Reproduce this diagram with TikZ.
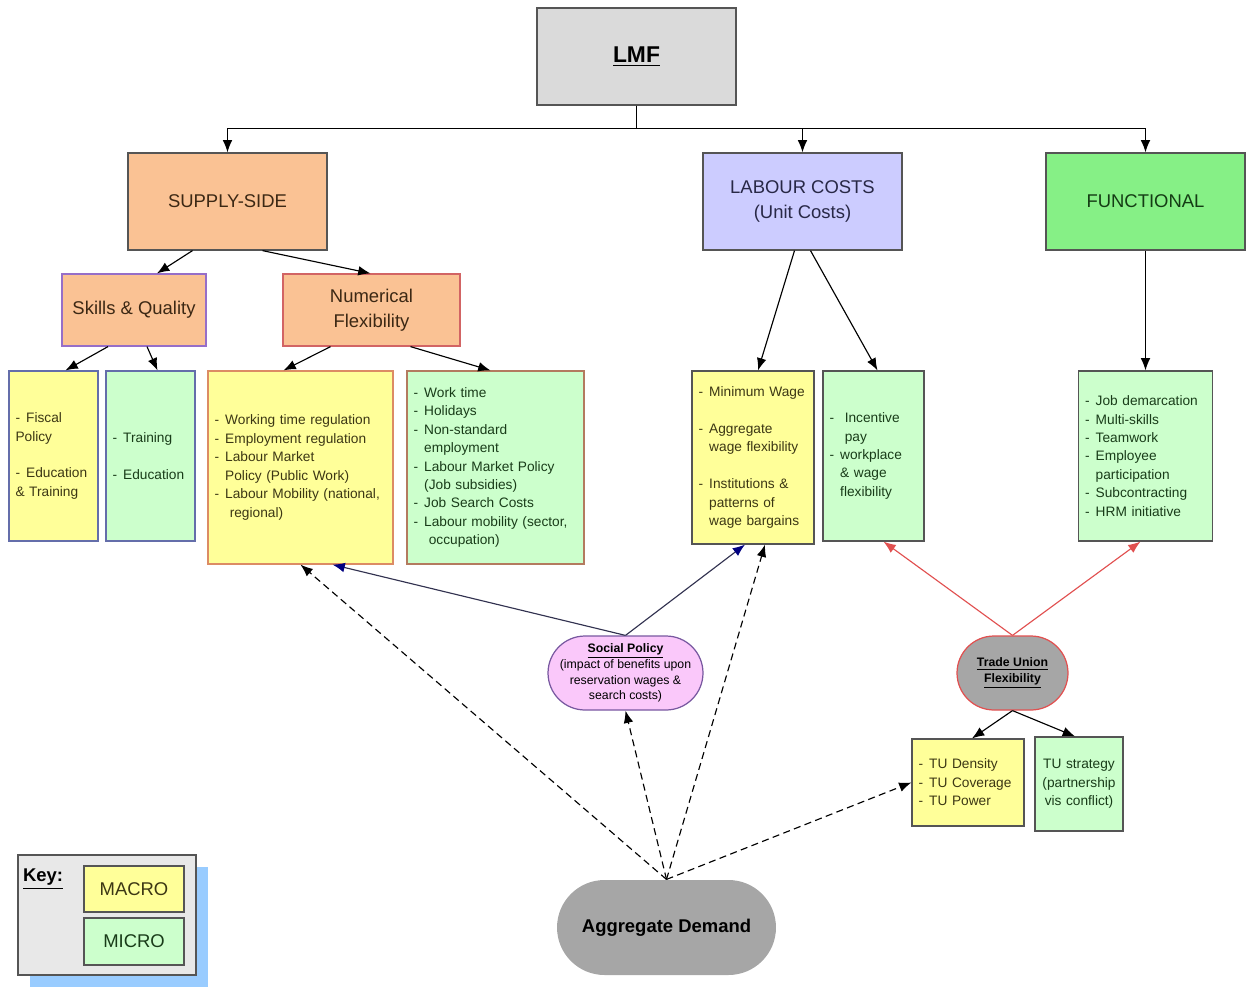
\documentclass[tikz,border=0pt]{standalone}
\usepackage{fontspec}
\setmainfont{Liberation Sans}
\usepackage{tikz}
\usetikzlibrary{calc, arrows.meta}

\definecolor{lmfgray}{RGB}{218,218,218}
\definecolor{peach}{RGB}{250,194,148}
\definecolor{lavender}{RGB}{204,204,255}
\definecolor{brightgrn}{RGB}{134,240,134}
\definecolor{macroyel}{RGB}{255,255,153}
\definecolor{microgrn}{RGB}{204,255,204}
\definecolor{pinkfill}{RGB}{250,200,250}
\definecolor{tugray}{RGB}{166,166,166}
\definecolor{keygray}{RGB}{232,232,232}
\definecolor{keyshadow}{RGB}{153,204,255}
\definecolor{edge}{RGB}{85,85,85}
\definecolor{purpedge}{RGB}{150,110,200}
\definecolor{rededge}{RGB}{210,100,100}
\definecolor{blueedge}{RGB}{100,110,170}
\definecolor{orgedge}{RGB}{220,140,100}
\definecolor{spline}{RGB}{50,50,80}
\definecolor{spnavy}{RGB}{0,0,128}
\definecolor{tured}{RGB}{225,80,80}
\definecolor{macrotxt}{RGB}{60,55,20}
\definecolor{microtxt}{RGB}{25,60,25}

\begin{document}
\begin{tikzpicture}[x=0.02cm, y=-0.02cm,
		box/.style={draw=edge, line width=0.7pt, inner sep=1pt, align=center},
		head/.style={box, font=\fontsize{10.5}{14}\selectfont, minimum width=3.98cm, minimum height=1.94cm},
		sub/.style={box, fill=peach, text={rgb,255:red,60;green,40;blue,20}, font=\fontsize{10.5}{14}\selectfont, minimum height=1.44cm},
		list/.style={draw=edge, line width=0.7pt, inner xsep=0.13cm, inner ysep=0pt, align=left, font=\fontsize{7.8}{10.5}\selectfont},
		macro/.style={list, fill=macroyel, text=macrotxt},
		micro/.style={list, fill=microgrn, text=microtxt},
		pill/.style={line width=0.7pt, inner sep=1pt, align=center, minimum height=1.48cm, rounded corners=0.74cm},
		link/.style={-{Latex[length=7pt, width=5.5pt]}, line width=0.65pt},
		spl/.style={-{Latex[length=7pt, width=5.5pt, color=spnavy]}, line width=0.65pt, draw=spline},
		tul/.style={-{Latex[length=7pt, width=5.5pt]}, line width=0.65pt, draw=tured},
		demand/.style={link, dash pattern=on 4pt off 2.5pt},
	]
		\def\bul{-\hspace{3.5pt}}
		\def\ind{\hspace{6.1pt}}

		\useasboundingbox (0,0) rectangle (1247,987);

		% top level
		\node[head, fill=lmfgray, font=\fontsize{13}{15}\selectfont\bfseries] (lmf) at (636.5,56.5) {\underline{LMF}};
		\node[head, fill=peach, text={rgb,255:red,60;green,40;blue,20}] (ss) at (227.5,201.5) {SUPPLY-SIDE};
		\node[head, fill=lavender, text={rgb,255:red,40;green,40;blue,70}] (lc) at (802.5,201.5) {LABOUR COSTS\\(Unit Costs)};
		\node[head, fill=brightgrn, text={rgb,255:red,20;green,60;blue,20}] (fn) at (1145.5,201.5) {FUNCTIONAL};

		\node[sub, draw=purpedge, minimum width=2.88cm] (sq) at (134,310) {Skills \& Quality};
		\node[sub, draw=rededge, minimum width=3.54cm] (nf) at (371.5,310) {Numerical\\Flexibility};

		% lists
		\node[macro, draw=blueedge, text width=1.52cm, minimum height=3.4cm] (fp) at (53.5,456)
			{\bul Fiscal\\Policy\\[10.5pt]\bul Education\\\& Training};
		\node[micro, draw=blueedge, text width=1.52cm, minimum height=3.4cm] (tr) at (150.5,456)
			{\bul Training\\[10.5pt]\bul Education};
		\node[macro, draw=orgedge, text width=3.44cm, minimum height=3.86cm] (wt) at (300.5,467.5)
			{\bul Working time regulation\\\bul Employment regulation\\\bul Labour Market\\\ind Policy (Public Work)\\\bul Labour Mobility (national,\\\ind\ regional)};
		\node[micro, draw=orgedge!70!edge, text width=3.28cm, minimum height=3.86cm] (wk) at (495.5,467.5)
			{\bul Work time\\\bul Holidays\\\bul Non-standard\\\ind employment\\\bul Labour Market Policy\\\ind (Job subsidies)\\\bul Job Search Costs\\\bul Labour mobility (sector,\\\ind\ occupation)};
		\node[macro, text width=2.18cm, minimum height=3.46cm] (mw) at (753,457.5)
			{\bul Minimum Wage\\[10.5pt]\bul Aggregate\\\ind wage flexibility\\[10.5pt]\bul Institutions \&\\\ind patterns of\\\ind wage bargains};
		\node[micro, text width=1.76cm, minimum height=3.4cm] (ip) at (873.5,456)
			{\bul\ Incentive\\\ind\ pay\\\bul workplace\\\ind \& wage\\\ind flexibility};
		\node[micro, text width=2.42cm, minimum height=3.4cm] (jd) at (1145.5,456)
			{\bul Job demarcation\\\bul Multi-skills\\\bul Teamwork\\\bul Employee\\\ind participation\\\bul Subcontracting\\\bul HRM initiative};

		% policy and unions
		\node[pill, draw=purpedge!80!black, fill=pinkfill, minimum width=3.1cm, font=\fontsize{7}{9}\selectfont] (sp) at (625.5,673)
			{\textbf{\underline{Social Policy}}\\(impact of benefits upon\\reservation wages \&\\search costs)};
		\node[pill, draw=tured, fill=tugray, minimum width=2.22cm, font=\fontsize{7}{9}\selectfont\bfseries] (tu) at (1012.5,673)
			{\underline{Trade Union}\\\underline{Flexibility}};
		\node[macro, text width=1.98cm, minimum height=1.74cm] (tud) at (968,782.5)
			{\bul TU Density\\\bul TU Coverage\\\bul TU Power};
		\node[micro, align=center, text width=1.5cm, minimum height=1.88cm] (tus) at (1079,784)
			{TU strategy\\(partnership\\vis conflict)};

		\node[pill, fill=tugray, minimum width=4.38cm, minimum height=1.9cm, rounded corners=0.95cm, font=\fontsize{10.5}{13}\selectfont\bfseries] (ad) at (666.5,927.5) {Aggregate Demand};

		% key
		\fill[keyshadow] (30,867) rectangle (208,987);
		\node[draw=edge, fill=keygray, line width=0.7pt, minimum width=3.56cm, minimum height=2.4cm] (key) at (107,915) {};
		\node[font=\fontsize{10.5}{13}\selectfont\bfseries, inner sep=0pt] (keyt) at (43,879) {\underline{Key:}};
		\node[box, fill=macroyel, text=macrotxt, font=\fontsize{10.5}{13}\selectfont, minimum width=2cm, minimum height=0.92cm] (kma) at (134,889) {MACRO};
		\node[box, fill=microgrn, text=microtxt, font=\fontsize{10.5}{13}\selectfont, minimum width=2cm, minimum height=0.94cm] (kmi) at (134,941.5) {MICRO};

		% tree
		\draw[link] (lmf.south) -- ++(0,23) -| (ss.north);
		\draw[link] (lmf.south) -- ++(0,23) -| (lc.north);
		\draw[link] (lmf.south) -- ++(0,23) -| (fn.north);

		\draw[link] ($(ss.south)+(-35,0)$) -- ($(sq.north)+(23,0)$);
		\draw[link] ($(ss.south)+(35,0)$) -- ($(nf.north)+(-1,0)$);
		\draw[link] ($(sq.south)+(-26,0)$) -- ($(fp.north)+(12,0)$);
		\draw[link] ($(sq.south)+(13,0)$) -- ($(tr.north)+(7,0)$);
		\draw[link] ($(nf.south)+(-41,0)$) -- ($(wt.north)+(-17,0)$);
		\draw[link] ($(nf.south)+(39,0)$) -- ($(wk.north)+(-5,0)$);
		\draw[link] ($(lc.south)+(-8,0)$) -- ($(mw.north)+(5,0)$);
		\draw[link] ($(lc.south)+(8,0)$) -- ($(ip.north)+(4,0)$);
		\draw[link] (fn.south) -- (jd.north);

		% social policy
		\draw[spl] (sp.north) -- ($(wt.south)+(32,0)$);
		\draw[spl] (sp.north) -- ($(mw.south)+(-8,0)$);

		% trade unions
		\draw[tul] (tu.north) -- ($(ip.south)+(10,0)$);
		\draw[tul] (tu.north) -- ($(jd.south)+(-5,0)$);
		\draw[link] (tu.south) -- ($(tud.north)+(4,0)$);
		\draw[link] (tu.south) -- ($(tus.north)+(-4,0)$);

		% aggregate demand
		\draw[demand] (ad.north) -- (wt.south);
		\draw[demand] (ad.north) -- (sp.south);
		\draw[demand] (ad.north) -- ($(mw.south)+(12,0)$);
		\draw[demand] (ad.north) -- (tud.west);
	\end{tikzpicture}
\end{document}
